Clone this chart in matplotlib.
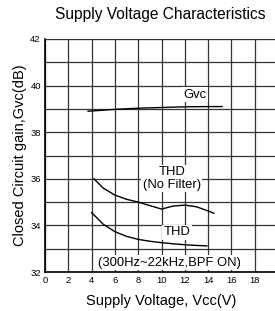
import matplotlib
matplotlib.use("Agg")
from matplotlib import pyplot as plt

plt.rcParams['font.family'] = ['Liberation Sans', 'DejaVu Sans']

# curves
gvc_x = [3.7, 6, 8, 10, 12, 14, 15.2]
gvc_y = [38.9, 38.98, 39.03, 39.06, 39.09, 39.1, 39.1]

thd_nf_x = [4.2, 5, 6, 7, 8, 9, 10, 11, 12, 13, 14, 14.5]
thd_nf_y = [36.0, 35.6, 35.3, 35.12, 35.0, 34.85, 34.7, 34.83, 34.87, 34.8, 34.62, 34.52]

thd_bpf_x = [4.0, 5, 6, 7, 8, 9, 10, 11, 12, 13, 13.9]
thd_bpf_y = [34.55, 34.05, 33.73, 33.53, 33.4, 33.32, 33.26, 33.21, 33.17, 33.14, 33.12]

x_ticks = [0, 2, 4, 6, 8, 10, 12, 14, 16, 18]
y_ticks = [32, 34, 36, 38, 40, 42]

fig = plt.figure(figsize=(2.75, 3.11), dpi=100)
ax = fig.add_axes([45/275, 1 - 272/311, 233/275, 233/311])

ax.set_xlim(0, 20)
ax.set_ylim(32, 42)
ax.set_xticks(x_ticks)
ax.set_yticks(y_ticks)
ax.set_xticks(range(0, 21, 2), minor=True)
ax.set_yticks(range(32, 43), minor=True)
ax.grid(True, which='both', color='#333333', linewidth=0.9)
ax.tick_params(which='both', length=0, labelsize=6.8, pad=3)

ax.plot(gvc_x, gvc_y, color='black', linewidth=1.0)
ax.plot(thd_nf_x, thd_nf_y, color='black', linewidth=1.0)
ax.plot(thd_bpf_x, thd_bpf_y, color='black', linewidth=1.0)

box = dict(facecolor='white', edgecolor='none', pad=1)
ax.text(12.9, 39.6, "Gvc", ha='center', va='center', fontsize=9.4, bbox=box)
ax.text(10.9, 36.02, "THD\n(No Filter)", ha='center', va='center', fontsize=9.4,
        linespacing=1.05, bbox=box)
ax.text(11.3, 33.7, "THD", ha='center', va='center', fontsize=9.4, bbox=box)
ax.text(10.7, 32.4, "(300Hz~22kHz,BPF ON)", ha='center', va='center', fontsize=9.4,
        bbox=box)

for s in ['left', 'bottom']:
    ax.spines[s].set_color('black')
    ax.spines[s].set_linewidth(1.2)
for s in ['top', 'right']:
    ax.spines[s].set_color('#333333')

ax.set_xlabel("Supply Voltage, Vcc(V)", fontsize=10.5, labelpad=6)
ax.set_ylabel("Closed Circuit gain,Gvc(dB)", fontsize=10.5, labelpad=2)
fig.text(160/275, 1 - 15/311, "Supply Voltage Characteristics", ha='center',
         va='center', fontsize=11.2)

fig.savefig("out.png", dpi=100)
